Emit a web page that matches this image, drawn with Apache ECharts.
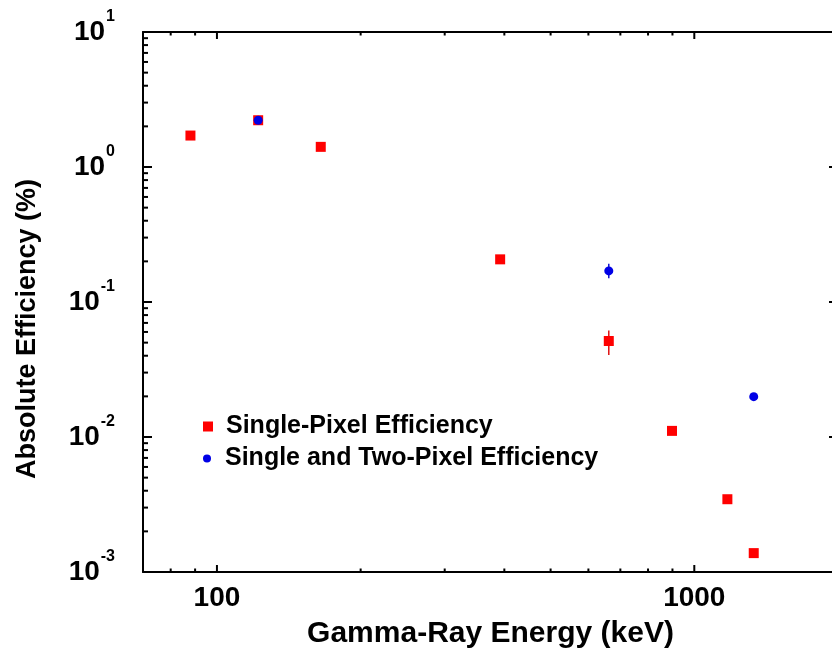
<!DOCTYPE html>
<html><head><meta charset="utf-8">
<script src="https://cdn.jsdelivr.net/npm/echarts@6/dist/echarts.min.js"></script>
<style>html,body{margin:0;padding:0;background:#fff}#c{width:832px;height:653px}</style>
</head><body><div id="c"></div>
<script>
// ---- data ----
const singleName = 'Single-Pixel Efficiency';
const twoName = 'Single and Two-Pixel Efficiency';
const singleEnergy = [88, 122, 165, 392, 662, 898, 1173, 1332];
const singleEff    = [1.71, 2.22, 1.41, 0.207, 0.0514, 0.0111, 0.00346, 0.00138];
const twoEnergy = [122, 662, 1332];
const twoEff    = [2.22, 0.170, 0.0199];
const singleErrEnergy = [662];
const singleErrLow    = [0.0405];
const singleErrHigh   = [0.0614];
const twoErrEnergy = [662];
const twoErrLow    = [0.150];
const twoErrHigh   = [0.192];
const xMin = 70, xMax = 2000, yMin = 0.001, yMax = 10;
const xMajorTicks = [100, 1000];
const xTickLabels = ['100', '1000'];
const xMinorTicks = [80, 90, 200, 300, 400, 500, 600, 700, 800, 900];
const yMajorTicks = [0.001, 0.01, 0.1, 1, 10];
const yTickExponents = ['-3', '-2', '-1', '0', '1'];
const yMinorTicks = [0.002, 0.003, 0.004, 0.005, 0.006, 0.007, 0.008, 0.009,
                     0.02, 0.03, 0.04, 0.05, 0.06, 0.07, 0.08, 0.09,
                     0.2, 0.3, 0.4, 0.5, 0.6, 0.7, 0.8, 0.9,
                     2, 3, 4, 5, 6, 7, 8, 9];

// ---- helpers ----
const FONT = '"Liberation Sans", Arial, Helvetica, sans-serif';
const RED = '#ff0000', BLUE = '#0000e6';
function near(a, b) { return Math.abs(Math.log10(a) - Math.log10(b)) < 1e-6; }
function xLabel(v) {
  for (let i = 0; i < xMajorTicks.length; i++) if (near(v, xMajorTicks[i])) return xTickLabels[i];
  return '';
}
function yLabel(v) {
  for (let i = 0; i < yMajorTicks.length; i++) if (near(v, yMajorTicks[i])) return '{b|10}{s|' + yTickExponents[i] + '}';
  return '';
}
function tickSeries(values, orient, len) {
  return {
    type: 'custom', silent: true, clip: false, z: 5,
    xAxisIndex: 0, yAxisIndex: 0,
    data: values.map(v => orient === 'x' ? [v, yMin] : [xMin, v]),
    renderItem: function (params, api) {
      const st = { stroke: '#000', lineWidth: 2 };
      if (orient === 'x') {
        const v = api.value(0);
        const a = api.coord([v, yMin]), b = api.coord([v, yMax]);
        return { type: 'group', children: [
          { type: 'line', shape: { x1: a[0], y1: a[1], x2: a[0], y2: a[1] - len }, style: st },
          { type: 'line', shape: { x1: b[0], y1: b[1], x2: b[0], y2: b[1] + len }, style: st }
        ]};
      } else {
        const v = api.value(1);
        const a = api.coord([xMin, v]), b = api.coord([xMax, v]);
        return { type: 'group', children: [
          { type: 'line', shape: { x1: a[0], y1: a[1], x2: a[0] + len, y2: a[1] }, style: st },
          { type: 'line', shape: { x1: b[0], y1: b[1], x2: b[0] - len, y2: b[1] }, style: st }
        ]};
      }
    }
  };
}
function errSeries(xs, lows, highs, color) {
  return {
    type: 'custom', silent: true, z: 3,
    data: xs.map((x, i) => [x, lows[i], highs[i]]),
    encode: { x: 0, y: [1, 2] },
    renderItem: function (params, api) {
      const lo = api.coord([api.value(0), api.value(1)]);
      const hi = api.coord([api.value(0), api.value(2)]);
      return { type: 'line', shape: { x1: lo[0], y1: lo[1], x2: hi[0], y2: hi[1] },
               style: { stroke: color, lineWidth: 1.5 } };
    }
  };
}
const axisLine = { show: true, lineStyle: { color: '#000', width: 2 } };

const chart = echarts.init(document.getElementById('c'), null, { renderer: 'canvas' });
chart.setOption({
  backgroundColor: '#fff',
  animation: false,
  grid: { left: 143, width: 695, top: 32, height: 540, containLabel: false, outerBoundsMode: 'none' },
  legend: [
    {
      data: [{ name: singleName, icon: 'path://M0,0L10,0L10,10L0,10Z' }],
      left: 203, top: 414, padding: 0,
      itemWidth: 26, itemHeight: 10, symbolKeepAspect: true,
      textStyle: { fontFamily: FONT, fontWeight: 'bold', fontSize: 25, color: '#000' },
      selectedMode: false
    },
    {
      data: [{ name: twoName, icon: 'circle' }],
      left: 203, top: 446, padding: 0,
      itemWidth: 26, itemHeight: 8,
      textStyle: { fontFamily: FONT, fontWeight: 'bold', fontSize: 25, color: '#000' },
      selectedMode: false
    }
  ],
  xAxis: [
    {
      type: 'log', logBase: 10, min: xMin, max: xMax, position: 'bottom',
      name: 'Gamma-Ray Energy (keV)', nameLocation: 'middle', nameGap: 47,
      nameTextStyle: { fontFamily: FONT, fontWeight: 'bold', fontSize: 30, color: '#000' },
      axisLine: axisLine, axisTick: { show: false }, splitLine: { show: false },
      axisLabel: { formatter: xLabel, margin: 12, fontFamily: FONT, fontWeight: 'bold', fontSize: 28, color: '#000',
                   showMinLabel: false, showMaxLabel: false }
    },
    {
      type: 'log', logBase: 10, min: xMin, max: xMax, position: 'top',
      axisLine: axisLine, axisTick: { show: false }, splitLine: { show: false }, axisLabel: { show: false }
    }
  ],
  yAxis: [
    {
      type: 'log', logBase: 10, min: yMin, max: yMax, position: 'left',
      name: 'Absolute Efficiency (%)', nameLocation: 'middle', nameGap: 102, nameRotate: 90,
      nameTextStyle: { fontFamily: FONT, fontWeight: 'bold', fontSize: 27, color: '#000', padding: [0, 54, 0, 0] },
      axisLine: axisLine, axisTick: { show: false }, splitLine: { show: false },
      axisLabel: {
        formatter: yLabel, margin: 28, color: '#000',
        rich: {
          b: { fontFamily: FONT, fontWeight: 'bold', fontSize: 28, color: '#000' },
          s: { fontFamily: FONT, fontWeight: 'bold', fontSize: 16, color: '#000', verticalAlign: 'top', padding: [0, 0, 30, 1] }
        }
      }
    },
    {
      type: 'log', logBase: 10, min: yMin, max: yMax, position: 'right',
      axisLine: axisLine, axisTick: { show: false }, splitLine: { show: false }, axisLabel: { show: false }
    }
  ],
  series: [
    tickSeries(xMajorTicks, 'x', 7),
    tickSeries(xMinorTicks, 'x', 3.5),
    tickSeries(yMajorTicks, 'y', 9),
    tickSeries(yMinorTicks, 'y', 5),
    errSeries(singleErrEnergy, singleErrLow, singleErrHigh, '#e01010'),
    errSeries(twoErrEnergy, twoErrLow, twoErrHigh, '#1010d0'),
    {
      name: singleName, type: 'scatter', symbol: 'rect', symbolSize: 10, z: 4,
      itemStyle: { color: RED, opacity: 1 },
      data: singleEnergy.map((x, i) => [x, singleEff[i]])
    },
    {
      name: twoName, type: 'scatter', symbol: 'circle', symbolSize: 9, z: 6,
      itemStyle: { color: BLUE, opacity: 1 },
      data: twoEnergy.map((x, i) => [x, twoEff[i]])
    }
  ]
});
</script>
</body></html>
